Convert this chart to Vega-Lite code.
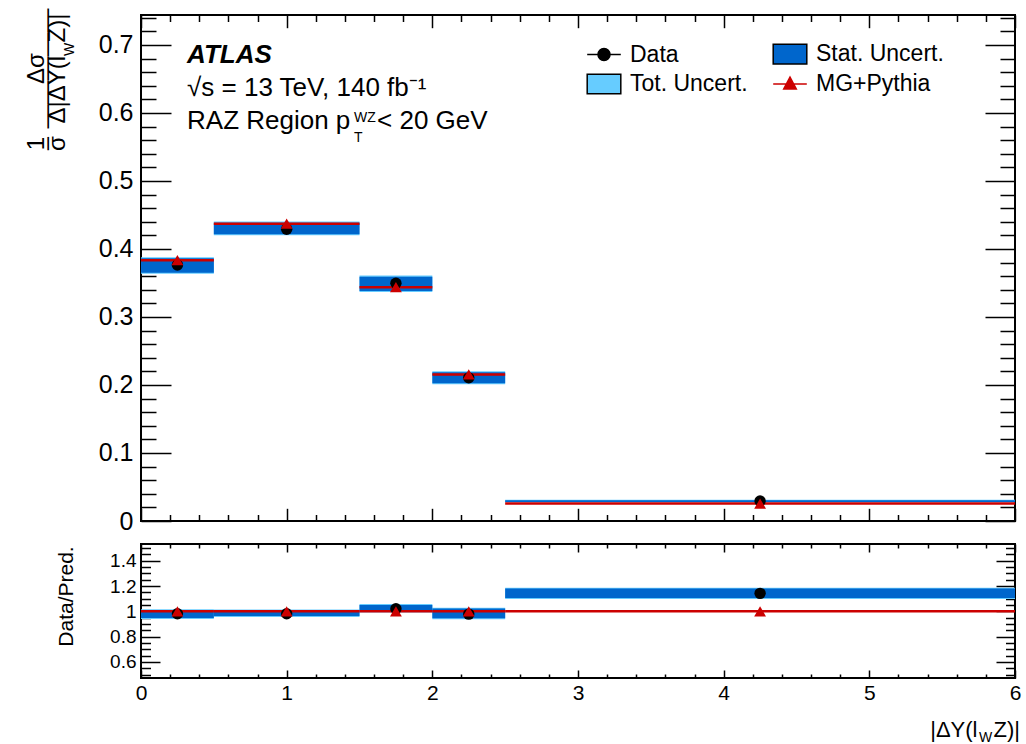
{
  "$schema": "https://vega.github.io/schema/vega-lite/v6.json",
  "autosize": {"type": "none"},
  "padding": {"left": 141, "top": 15, "right": 885, "bottom": 729},
  "background": "white",
  "spacing": 7,
  "datasets": {
    "main": [
      {"lo": 0, "hi": 0.5, "c": 0.25, "data": 0.3765, "pred": 0.3834, "stat_lo": 0.3651, "stat_hi": 0.3863, "tot_lo": 0.3636, "tot_hi": 0.3878},
      {"lo": 0.5, "hi": 1.5, "c": 1.0, "data": 0.429, "pred": 0.4372, "stat_lo": 0.4216, "stat_hi": 0.4387, "tot_lo": 0.4201, "tot_hi": 0.4402},
      {"lo": 1.5, "hi": 2, "c": 1.75, "data": 0.3495, "pred": 0.3437, "stat_lo": 0.3382, "stat_hi": 0.3593, "tot_lo": 0.3367, "tot_hi": 0.3608},
      {"lo": 2, "hi": 2.5, "c": 2.25, "data": 0.2105, "pred": 0.2155, "stat_lo": 0.2025, "stat_hi": 0.2187, "tot_lo": 0.201, "tot_hi": 0.2202},
      {"lo": 2.5, "hi": 6, "c": 4.25, "data": 0.0293, "pred": 0.0256, "stat_lo": 0.028, "stat_hi": 0.0306, "tot_lo": 0.0272, "tot_hi": 0.0313}
    ],
    "ratio": [
      {"lo": 0, "hi": 0.5, "c": 0.25, "r": 0.981, "stat_lo": 0.947, "stat_hi": 1.010, "tot_lo": 0.94, "tot_hi": 1.017},
      {"lo": 0.5, "hi": 1.5, "c": 1.0, "r": 0.981, "stat_lo": 0.962, "stat_hi": 1.008, "tot_lo": 0.955, "tot_hi": 1.015},
      {"lo": 1.5, "hi": 2, "c": 1.75, "r": 1.02, "stat_lo": 0.997, "stat_hi": 1.05, "tot_lo": 0.99, "tot_hi": 1.057},
      {"lo": 2, "hi": 2.5, "c": 2.25, "r": 0.978, "stat_lo": 0.945, "stat_hi": 1.022, "tot_lo": 0.938, "tot_hi": 1.029},
      {"lo": 2.5, "hi": 6, "c": 4.25, "r": 1.142, "stat_lo": 1.105, "stat_hi": 1.18, "tot_lo": 1.098, "tot_hi": 1.187}
    ]
  },
  "vconcat": [
    {
      "width": 874,
      "height": 506,
      "data": {"name": "main"},
      "layer": [
        {
          "mark": {"type": "rect", "color": "#66ccff"},
          "encoding": {
            "x": {"field": "lo", "type": "quantitative", "scale": {"domain": [0, 6], "nice": false, "zero": false},
                  "axis": {"orient": "bottom", "values": [0, 1, 2, 3, 4, 5, 6], "labels": false, "tickSize": -12.7, "title": null}},
            "x2": {"field": "hi"},
            "y": {"field": "tot_lo", "type": "quantitative", "scale": {"domain": [0, 0.744], "nice": false, "zero": false},
                  "axis": {"orient": "left", "values": [0, 0.1, 0.2, 0.3, 0.4, 0.5, 0.6, 0.7], "format": "~g", "tickSize": -30, "labelFontSize": 25, "labelPadding": 38,
                           "title": ["Δσ", "—————"], "titleFontSize": 24, "titleLineHeight": 10.5, "titleAngle": 270, "titleX": -98, "titleY": 53, "titleAlign": "center", "titleBaseline": "alphabetic"}},
            "y2": {"field": "tot_hi"}
          }
        },
        {
          "mark": {"type": "rect", "color": "#0066cc"},
          "encoding": {
            "x": {"field": "lo", "type": "quantitative", "scale": {"domain": [0, 6], "nice": false, "zero": false},
                  "axis": {"orient": "bottom", "values": [0.2, 0.4, 0.6, 0.8, 1.2, 1.4, 1.6, 1.8, 2.2, 2.4, 2.6, 2.8, 3.2, 3.4, 3.6, 3.8, 4.2, 4.4, 4.6, 4.8, 5.2, 5.4, 5.6, 5.8], "labels": false, "tickSize": -6.5, "title": null}},
            "x2": {"field": "hi"},
            "y": {"field": "stat_lo", "type": "quantitative", "scale": {"domain": [0, 0.744], "nice": false, "zero": false},
                  "axis": {"orient": "left", "values": [0.02, 0.04, 0.06, 0.08, 0.12, 0.14, 0.16, 0.18, 0.22, 0.24, 0.26, 0.28, 0.32, 0.34, 0.36, 0.38, 0.42, 0.44, 0.46, 0.48, 0.52, 0.54, 0.56, 0.58, 0.62, 0.64, 0.66, 0.68, 0.72, 0.74], "labels": false, "tickSize": -15,
                           "title": ["1", "–", "σ"], "titleFontSize": 24, "titleLineHeight": 10.5, "titleAngle": 270, "titleX": -98, "titleY": 128, "titleAlign": "center", "titleBaseline": "alphabetic"}},
            "y2": {"field": "stat_hi"}
          }
        },
        {
          "mark": {"type": "rule", "color": "#cc0000", "strokeWidth": 2.5},
          "encoding": {
            "x": {"field": "lo", "type": "quantitative", "scale": {"domain": [0, 6], "nice": false, "zero": false},
                  "axis": {"orient": "top", "values": [0, 1, 2, 3, 4, 5, 6], "labels": false, "tickSize": -12.7,
                           "title": "Z)|", "titleFontSize": 24, "titleAngle": 270, "titleX": -77, "titleY": 27, "titleAlign": "left", "titleBaseline": "alphabetic"}},
            "x2": {"field": "hi"},
            "y": {"field": "pred", "type": "quantitative", "scale": {"domain": [0, 0.744], "nice": false, "zero": false},
                  "axis": {"orient": "right", "values": [0, 0.1, 0.2, 0.3, 0.4, 0.5, 0.6, 0.7], "labels": false, "tickSize": -30,
                           "title": "W", "titleFontSize": 14, "titleAngle": 270, "titleX": -942, "titleY": 34, "titleAlign": "center", "titleBaseline": "alphabetic"}}
          }
        },
        {
          "mark": {"type": "point", "shape": "circle", "filled": true, "color": "black", "size": 130, "opacity": 1},
          "encoding": {
            "x": {"field": "c", "type": "quantitative", "scale": {"domain": [0, 6], "nice": false, "zero": false},
                  "axis": {"orient": "top", "values": [0.2, 0.4, 0.6, 0.8, 1.2, 1.4, 1.6, 1.8, 2.2, 2.4, 2.6, 2.8, 3.2, 3.4, 3.6, 3.8, 4.2, 4.4, 4.6, 4.8, 5.2, 5.4, 5.6, 5.8], "labels": false, "tickSize": -6.5, "title": null}},
            "y": {"field": "data", "type": "quantitative", "scale": {"domain": [0, 0.744], "nice": false, "zero": false},
                  "axis": {"orient": "right", "values": [0.02, 0.04, 0.06, 0.08, 0.12, 0.14, 0.16, 0.18, 0.22, 0.24, 0.26, 0.28, 0.32, 0.34, 0.36, 0.38, 0.42, 0.44, 0.46, 0.48, 0.52, 0.54, 0.56, 0.58, 0.62, 0.64, 0.66, 0.68, 0.72, 0.74], "labels": false, "tickSize": -15,
                           "title": "Δ|ΔY(l", "titleFontSize": 24, "titleAngle": 270, "titleX": -951, "titleY": 108, "titleAlign": "left", "titleBaseline": "alphabetic"}}
          }
        },
        {
          "mark": {"type": "point", "shape": "triangle-up", "filled": true, "color": "#cc0000", "size": 140, "opacity": 1},
          "encoding": {
            "x": {"field": "c", "type": "quantitative", "axis": null},
            "y": {"field": "pred", "type": "quantitative", "axis": null}
          }
        },
        {
          "data": {"values": [{"series": "Data"}, {"series": "Tot. Uncert."}, {"series": "Stat. Uncert."}, {"series": "MG+Pythia"}]},
          "mark": {"type": "point", "filled": true, "opacity": 1, "strokeWidth": 2, "clip": true},
          "encoding": {
            "x": {"datum": -1, "type": "quantitative", "axis": null},
            "y": {"datum": 0.5, "type": "quantitative", "axis": null},
            "fill": {"field": "series", "type": "nominal",
                     "scale": {"domain": ["Data", "Tot. Uncert.", "Stat. Uncert.", "MG+Pythia"], "range": ["black", "#66ccff", "#0066cc", "#cc0000"]},
                     "legend": {"orient": "none", "legendX": 448, "legendY": 24, "columns": 2, "title": null, "labelFontSize": 23, "labelFont": "Liberation Sans", "labelColor": "black", "symbolSize": 784, "labelOffset": 11, "rowPadding": 2, "columnPadding": 22, "padding": 0}},
            "stroke": {"field": "series", "type": "nominal",
                       "scale": {"domain": ["Data", "Tot. Uncert.", "Stat. Uncert.", "MG+Pythia"], "range": ["black", "black", "black", "#cc0000"]},
                       "legend": {"orient": "none", "legendX": 448, "legendY": 24, "columns": 2, "title": null, "labelFontSize": 23, "labelFont": "Liberation Sans", "labelColor": "black", "symbolSize": 784, "labelOffset": 11, "rowPadding": 2, "columnPadding": 22, "padding": 0}},
            "shape": {"field": "series", "type": "nominal",
                      "scale": {"domain": ["Data", "Tot. Uncert.", "Stat. Uncert.", "MG+Pythia"],
                                "range": ["M-1.2,0H1.2M-0.43,0A0.43,0.43,0,1,0,0.43,0A0.43,0.43,0,1,0,-0.43,0Z", "M-1.2,-0.7H1.2V0.7H-1.2Z", "M-1.2,-0.7H1.2V0.7H-1.2Z", "M-1.2,0H1.2M0,-0.5L0.45,0.35H-0.45Z"]},
                      "legend": {"orient": "none", "legendX": 448, "legendY": 24, "columns": 2, "title": null, "labelFontSize": 23, "labelFont": "Liberation Sans", "labelColor": "black", "symbolSize": 784, "labelOffset": 11, "rowPadding": 2, "columnPadding": 22, "padding": 0}}
          }
        },
        {
          "data": {"values": [{"t": "ATLAS"}]},
          "mark": {"type": "text", "align": "left", "baseline": "middle", "fontSize": 26, "fontWeight": "bold", "fontStyle": "italic", "color": "black"},
          "encoding": {
            "x": {"datum": 0.316, "type": "quantitative", "axis": null},
            "y": {"datum": 0.685, "type": "quantitative", "axis": null},
            "text": {"field": "t"}
          }
        },
        {
          "data": {"values": [{"t": "√s = 13 TeV, 140 fb⁻¹"}]},
          "mark": {"type": "text", "align": "left", "baseline": "middle", "fontSize": 26, "color": "black"},
          "encoding": {
            "x": {"datum": 0.316, "type": "quantitative", "axis": null},
            "y": {"datum": 0.637, "type": "quantitative", "axis": null},
            "text": {"field": "t"}
          }
        },
        {
          "data": {"values": [{"t": "RAZ Region p"}]},
          "mark": {"type": "text", "align": "left", "baseline": "middle", "fontSize": 26, "color": "black"},
          "encoding": {
            "x": {"datum": 0.316, "type": "quantitative", "axis": null},
            "y": {"datum": 0.588, "type": "quantitative", "axis": null},
            "text": {"field": "t"}
          }
        },
        {
          "data": {"values": [{"t": "WZ"}]},
          "mark": {"type": "text", "align": "left", "baseline": "middle", "fontSize": 14, "color": "black", "dx": 167, "dy": -3},
          "encoding": {
            "x": {"datum": 0.316, "type": "quantitative", "axis": null},
            "y": {"datum": 0.588, "type": "quantitative", "axis": null},
            "text": {"field": "t"}
          }
        },
        {
          "data": {"values": [{"t": "T"}]},
          "mark": {"type": "text", "align": "left", "baseline": "middle", "fontSize": 14, "color": "black", "dx": 167, "dy": 17},
          "encoding": {
            "x": {"datum": 0.316, "type": "quantitative", "axis": null},
            "y": {"datum": 0.588, "type": "quantitative", "axis": null},
            "text": {"field": "t"}
          }
        },
        {
          "data": {"values": [{"t": "< 20 GeV"}]},
          "mark": {"type": "text", "align": "left", "baseline": "middle", "fontSize": 26, "color": "black", "dx": 190},
          "encoding": {
            "x": {"datum": 0.316, "type": "quantitative", "axis": null},
            "y": {"datum": 0.588, "type": "quantitative", "axis": null},
            "text": {"field": "t"}
          }
        }
      ],
      "resolve": {"axis": {"x": "independent", "y": "independent"}}
    },
    {
      "width": 874,
      "height": 134,
      "data": {"name": "ratio"},
      "layer": [
        {
          "mark": {"type": "rect", "color": "#66ccff"},
          "encoding": {
            "x": {"field": "lo", "type": "quantitative", "scale": {"domain": [0, 6], "nice": false, "zero": false},
                  "axis": {"orient": "bottom", "values": [0, 1, 2, 3, 4, 5, 6], "format": "d", "tickSize": -8, "labelFontSize": 21, "labelPadding": 12,
                           "title": "|ΔY(l", "titleFontSize": 22, "titleX": 836, "titleY": 58, "titleAlign": "right", "titleBaseline": "alphabetic"}},
            "x2": {"field": "hi"},
            "y": {"field": "tot_lo", "type": "quantitative", "scale": {"domain": [0.473, 1.532], "nice": false, "zero": false},
                  "axis": {"orient": "left", "values": [0.6, 0.8, 1, 1.2, 1.4], "format": "~g", "tickSize": -19, "labelFontSize": 19, "labelPadding": 24,
                           "title": "Data/Pred.", "titleFontSize": 21, "titleAngle": 270, "titleX": -69, "titleY": 52, "titleAlign": "center", "titleBaseline": "alphabetic"}},
            "y2": {"field": "tot_hi"}
          }
        },
        {
          "mark": {"type": "rect", "color": "#0066cc"},
          "encoding": {
            "x": {"field": "lo", "type": "quantitative", "scale": {"domain": [0, 6], "nice": false, "zero": false},
                  "axis": {"orient": "bottom", "values": [0.2, 0.4, 0.6, 0.8, 1.2, 1.4, 1.6, 1.8, 2.2, 2.4, 2.6, 2.8, 3.2, 3.4, 3.6, 3.8, 4.2, 4.4, 4.6, 4.8, 5.2, 5.4, 5.6, 5.8], "labels": false, "tickSize": -4,
                           "title": "W", "titleFontSize": 14, "titleX": 844, "titleY": 63, "titleAlign": "center", "titleBaseline": "alphabetic"}},
            "x2": {"field": "hi"},
            "y": {"field": "stat_lo", "type": "quantitative", "scale": {"domain": [0.473, 1.532], "nice": false, "zero": false},
                  "axis": {"orient": "left", "values": [0.5, 0.55, 0.65, 0.7, 0.75, 0.85, 0.9, 0.95, 1.05, 1.1, 1.15, 1.25, 1.3, 1.35, 1.45, 1.5], "labels": false, "tickSize": -9.5, "title": null}},
            "y2": {"field": "stat_hi"}
          }
        },
        {
          "mark": {"type": "rule", "color": "#cc0000", "strokeWidth": 2.5},
          "encoding": {
            "x": {"field": "lo", "type": "quantitative", "scale": {"domain": [0, 6], "nice": false, "zero": false},
                  "axis": {"orient": "top", "values": [0, 1, 2, 3, 4, 5, 6], "labels": false, "tickSize": -8,
                           "title": "Z)|", "titleFontSize": 22, "titleX": 852, "titleY": 192, "titleAlign": "left", "titleBaseline": "alphabetic"}},
            "x2": {"field": "hi"},
            "y": {"datum": 1, "type": "quantitative", "scale": {"domain": [0.473, 1.532], "nice": false, "zero": false},
                  "axis": {"orient": "right", "values": [0.6, 0.8, 1, 1.2, 1.4], "labels": false, "tickSize": -19, "title": null}}
          }
        },
        {
          "mark": {"type": "point", "shape": "circle", "filled": true, "color": "black", "size": 130, "opacity": 1},
          "encoding": {
            "x": {"field": "c", "type": "quantitative", "scale": {"domain": [0, 6], "nice": false, "zero": false},
                  "axis": {"orient": "top", "values": [0.2, 0.4, 0.6, 0.8, 1.2, 1.4, 1.6, 1.8, 2.2, 2.4, 2.6, 2.8, 3.2, 3.4, 3.6, 3.8, 4.2, 4.4, 4.6, 4.8, 5.2, 5.4, 5.6, 5.8], "labels": false, "tickSize": -4, "title": null}},
            "y": {"field": "r", "type": "quantitative", "scale": {"domain": [0.473, 1.532], "nice": false, "zero": false},
                  "axis": {"orient": "right", "values": [0.5, 0.55, 0.65, 0.7, 0.75, 0.85, 0.9, 0.95, 1.05, 1.1, 1.15, 1.25, 1.3, 1.35, 1.45, 1.5], "labels": false, "tickSize": -9.5, "title": null}}
          }
        },
        {
          "mark": {"type": "point", "shape": "triangle-up", "filled": true, "color": "#cc0000", "size": 140, "opacity": 1},
          "encoding": {
            "x": {"field": "c", "type": "quantitative", "axis": null},
            "y": {"datum": 1, "type": "quantitative", "axis": null}
          }
        }
      ],
      "resolve": {"axis": {"x": "independent", "y": "independent"}}
    }
  ],
  "config": {
    "view": {"stroke": "black", "strokeWidth": 2},
    "font": "Liberation Sans",
    "axis": {"domain": false, "grid": false, "tickColor": "black", "tickWidth": 1.5, "labelColor": "black", "labelFont": "Liberation Sans", "titleFont": "Liberation Sans", "titleColor": "black", "titleFontWeight": "normal", "labelFlush": false, "labelOverlap": false},
    "text": {"font": "Liberation Sans"}
  }
}
